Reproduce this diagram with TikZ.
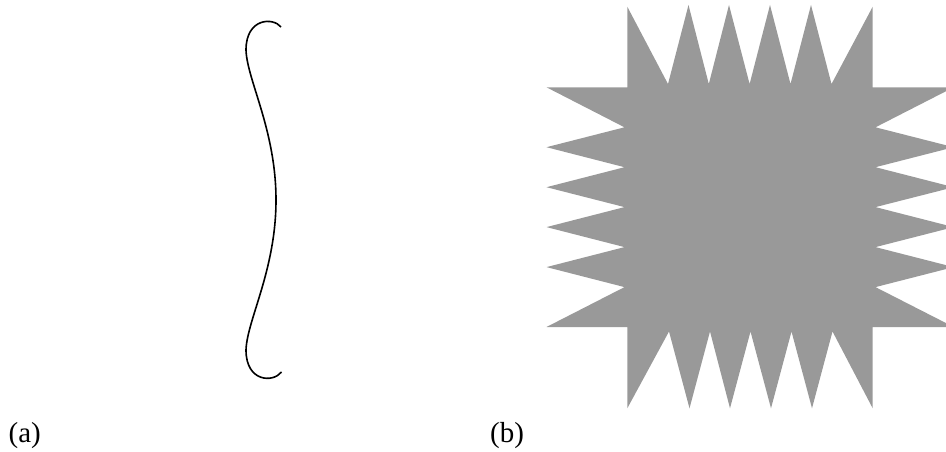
\documentclass[tikz,border=0pt]{standalone}
\usepackage{fontspec}
\setmainfont{Liberation Serif}
\definecolor{stargray}{RGB}{153,153,153}
\tikzset{
  curvestyle/.style={line width=1.6pt, black},
  starstyle/.style={fill=stargray, draw=none},
  lbl/.style={anchor=base west, inner sep=0pt, font=\fontsize{29}{35}\selectfont}
}
\begin{document}
\begin{tikzpicture}[x=1pt,y=-1pt]
\useasboundingbox (0,0) rectangle (946,452);
\clip (0,0) rectangle (946,452);
% (a) curve
\draw[curvestyle] (281,27) .. controls (273,17) and (246,18) .. (246,50)
  .. controls (247,80) and (276,130) .. (276,200)
  .. controls (276,270) and (247,320) .. (246,350)
  .. controls (246,382) and (273,383) .. (281.5,372);
% (b) star
\fill[starstyle]
  (627.3,6.7) -- (668,84) -- (688.5,5) -- (708.8,84) -- (729,5) -- (749.6,84)
  -- (770,5) -- (790.5,84) -- (811,5) -- (831.5,84) -- (872.7,6.7)
  -- (872.7,87.3)
  -- (953.7,87.3) -- (875.5,127.3) -- (953.7,147.2) -- (875.5,167.2)
  -- (953.7,187.2) -- (875.5,207.1) -- (953.7,227.1) -- (875.5,247.1)
  -- (953.7,267.1) -- (875.5,287.1) -- (953.7,327)
  -- (872.7,327)
  -- (872.7,408.3) -- (832.5,331.5) -- (812,408.3) -- (791.5,331.5)
  -- (771,408.3) -- (750.5,331.5) -- (730,408.3) -- (710,331.5)
  -- (689.5,408.3) -- (669,331.5) -- (627.3,408.3)
  -- (627.3,327)
  -- (546.5,327) -- (624.5,287.1) -- (546.5,267.1) -- (624.5,247.1)
  -- (546.5,227.1) -- (624.5,207.1) -- (546.5,187.2) -- (624.5,167.2)
  -- (546.5,147.2) -- (624.5,127.3) -- (546.5,87.3)
  -- (627.3,87.3) -- cycle;
% labels
\node[lbl] (la) at (8.5,442.5) {(a)};
\node[lbl] (lb) at (490,442.5) {(b)};
\end{tikzpicture}
\end{document}
